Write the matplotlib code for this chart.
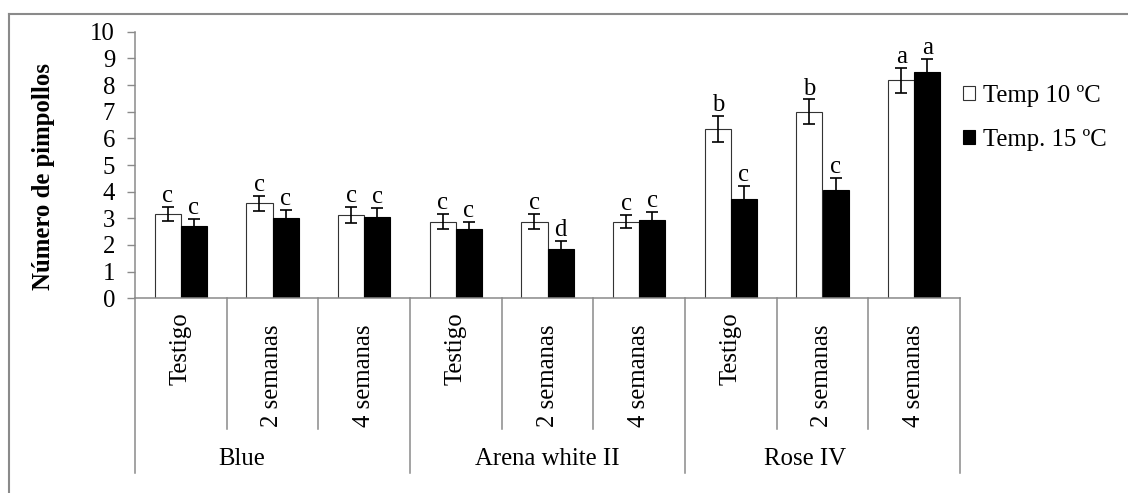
import matplotlib
matplotlib.use("Agg")
import matplotlib.pyplot as plt
from matplotlib.patches import Patch
from matplotlib.lines import Line2D
import numpy as np

plt.rcParams["font.family"] = ["Liberation Serif", "DejaVu Serif"]

# ---- data ----
groups = ["Blue", "Arena white II", "Rose IV"]
treatments = ["Testigo", "2 semanas", "4 semanas"]
series_names = ["Temp 10 ºC", "Temp. 15 ºC"]
temp10 = [3.16, 3.57, 3.12, 2.87, 2.87, 2.87, 6.36, 7.00, 8.17]
temp15 = [2.72, 3.02, 3.05, 2.59, 1.86, 2.94, 3.72, 4.05, 8.49]
err10 = [0.26, 0.28, 0.30, 0.28, 0.28, 0.25, 0.49, 0.46, 0.46]
err15 = [0.27, 0.30, 0.34, 0.28, 0.28, 0.29, 0.50, 0.45, 0.48]
letters10 = ["c", "c", "c", "c", "c", "c", "b", "b", "a"]
letters15 = ["c", "c", "c", "c", "d", "c", "c", "c", "a"]
yticks = list(range(0, 11))

# ---- layout ----
W, H, DPI = 1128, 493, 100
fig = plt.figure(figsize=(W / DPI, H / DPI), dpi=DPI)
ax_left, ax_right, ax_top, ax_bottom = 135, 960, 31.7, 298.3
ax = fig.add_axes([ax_left / W, 1 - ax_bottom / H,
                   (ax_right - ax_left) / W, (ax_bottom - ax_top) / H])

gray = "#8a8a8a"
fs = 17.8
n = len(temp10)
x = np.arange(n)
bw = 0.284

ax.bar(x - bw / 2, temp10, bw, color="white", edgecolor="#333333", linewidth=0.8, zorder=2)
ax.bar(x + bw / 2, temp15, bw, color="black", edgecolor="black", linewidth=0.8, zorder=2)
ekw = dict(fmt="none", ecolor="black", elinewidth=1.2, capsize=4.3, capthick=1.2, zorder=3)
ax.errorbar(x - bw / 2, temp10, yerr=err10, **ekw)
ax.errorbar(x + bw / 2, temp15, yerr=err15, **ekw)

for xs, vals, errs, labs in [(x - bw / 2, temp10, err10, letters10),
                             (x + bw / 2, temp15, err15, letters15)]:
    for xi, v, e, lab in zip(xs, vals, errs, labs):
        ax.annotate(lab, (xi, v + e), xytext=(0, 3.5), textcoords="offset points",
                    ha="center", va="baseline", fontsize=fs)

ax.set_xlim(-0.5, n - 0.5)
ax.set_ylim(0, 10)
ax.set_yticks(yticks)
ax.tick_params(axis="y", direction="out", length=5.8, width=1.0, color=gray,
               labelsize=fs, pad=8.5)
ax.set_xticks([])
for s in ["top", "right"]:
    ax.spines[s].set_visible(False)
for s in ["left", "bottom"]:
    ax.spines[s].set_color(gray)
    ax.spines[s].set_linewidth(1.1)

ax.set_ylabel("Número de pimpollos", fontsize=fs, fontweight="bold")
ax.yaxis.set_label_coords(-0.097, 0.457)

# category separators below the axis
axh = ax_bottom - ax_top
inner_bottom = -(429 - ax_bottom) / axh
outer_bottom = -(473 - ax_bottom) / axh
trans = ax.get_xaxis_transform()
ng = len(treatments)
for k in range(n + 1):
    yb = outer_bottom if k % ng == 0 else inner_bottom
    ax.plot([k - 0.5, k - 0.5], [0, yb], color=gray, lw=1.1,
            transform=trans, clip_on=False)

# treatment labels (rotated) and group labels
label_top = {"Testigo": 14, "2 semanas": 26, "4 semanas": 26}
for k in range(n):
    t = treatments[k % ng]
    ax.annotate(t, (k, 0), xycoords=trans, xytext=(0, -label_top[t] * 0.72),
                textcoords="offset points", rotation=90, ha="center", va="top",
                fontsize=fs)
group_x = [0.66, 4.0, 6.81]
for gx, g in zip(group_x, groups):
    ax.text(gx, -(459 - ax_bottom) / axh, g, transform=trans, ha="center",
            va="center", fontsize=fs)

# legend
handles = [Patch(facecolor="white", edgecolor="#333333", linewidth=0.8),
           Patch(facecolor="black", edgecolor="black", linewidth=0.8)]
fig.legend(handles, series_names, loc="upper left",
           bbox_to_anchor=(963 / W, 1 - 85 / H), frameon=False, fontsize=fs,
           handlelength=0.5, handleheight=0.5, handletextpad=0.3,
           labelspacing=0.88, borderpad=0, borderaxespad=0)

# outer frame (top and left edges)
fig.add_artist(Line2D([8.5 / W, 1.0], [1 - 13.5 / H, 1 - 13.5 / H],
                      transform=fig.transFigure, color=gray, lw=1.5))
fig.add_artist(Line2D([8.5 / W, 8.5 / W], [1 - 13.5 / H, 0.0],
                      transform=fig.transFigure, color=gray, lw=1.5))

fig.savefig("out.png", dpi=DPI, facecolor="white")
